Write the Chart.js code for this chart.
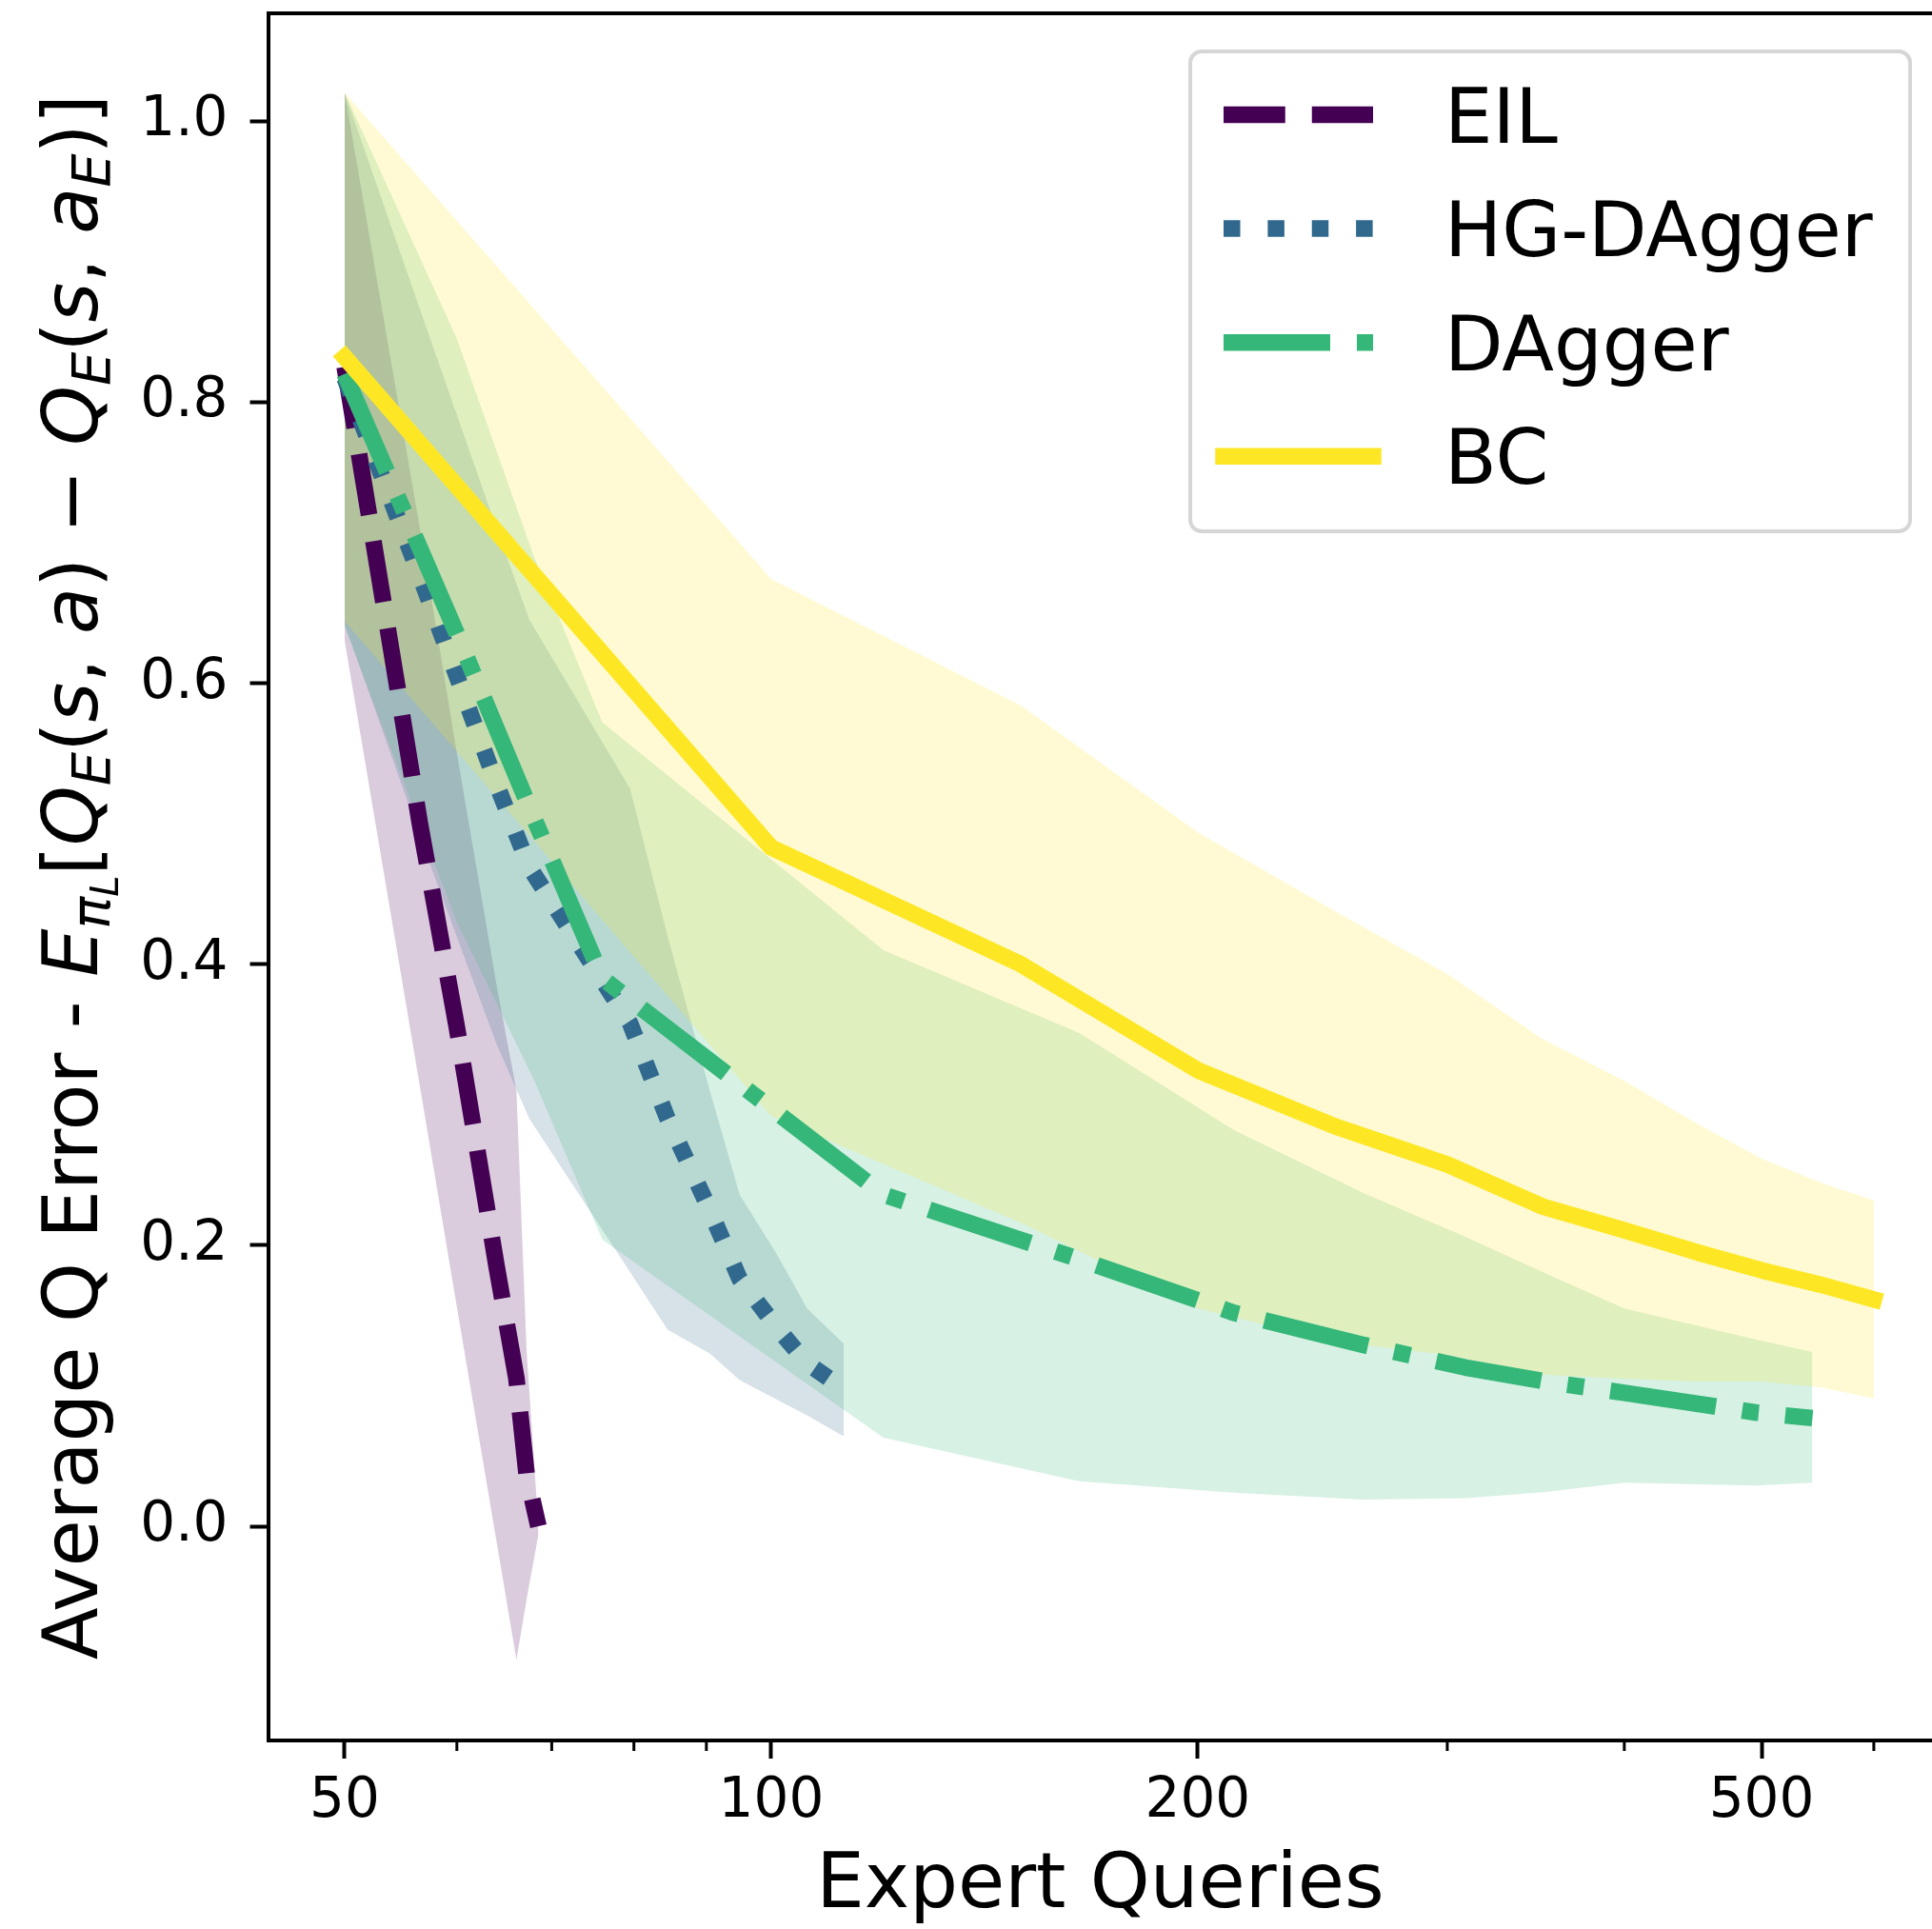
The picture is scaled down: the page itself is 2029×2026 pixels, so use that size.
<!DOCTYPE html>
<html>
<head>
<meta charset="utf-8">
<script src="https://cdn.jsdelivr.net/npm/chart.js@4.4.1/dist/chart.umd.min.js"></script>
<style>
  html, body { margin: 0; padding: 0; background: #fff; }
  #wrap { width: 2029px; height: 2026px; }
</style>
</head>
<body>
<div id="wrap"><canvas id="myChart" width="2029" height="2026"></canvas></div>
<script>
// ---- data ----
var seriesNames = ["EIL", "HG-DAgger", "DAgger", "BC"];
var seriesColors = ["#440154", "#31688e", "#35b779", "#fde725"];

var eilX = [50, 56.5, 60, 64, 66.1, 67.2, 68.5];
var eilMean = [0.825, 0.5, 0.355, 0.185, 0.105, 0.037, 0.0];
var eilLow = [0.63, 0.313, 0.156, -0.011, -0.095, -0.052, -0.006];
var eilHigh = [1.02, 0.71, 0.55, 0.385, 0.31, 0.125, 0.0];

var hgX = [50, 57, 64, 67.5, 79.5, 84.5, 90.5, 95, 101, 106, 112.5];
var hgMean = [0.817, 0.666, 0.528, 0.469, 0.358, 0.29, 0.225, 0.176, 0.141, 0.116, 0.098];
var hgLow = [0.642, 0.48, 0.343, 0.29, 0.181, 0.14, 0.123, 0.104, 0.09, 0.079, 0.064];
var hgHigh = [1.02, 0.855, 0.71, 0.645, 0.525, 0.42, 0.31, 0.236, 0.193, 0.155, 0.13];

var dagX = [50, 60, 68, 76, 120, 165, 212, 262, 309, 352, 400, 495, 543];
var dagMean = [0.82, 0.635, 0.504, 0.39, 0.236, 0.19, 0.152, 0.129, 0.113, 0.103, 0.095, 0.081, 0.077];
var dagLow = [0.64, 0.43, 0.318, 0.204, 0.063, 0.032, 0.024, 0.019, 0.02, 0.0245, 0.031, 0.029, 0.031];
var dagHigh = [1.02, 0.845, 0.69, 0.572, 0.41, 0.351, 0.282, 0.237, 0.206, 0.18, 0.155, 0.133, 0.124];

var bcX = [50, 100, 150, 200, 250, 300, 350, 400, 450, 500, 550, 600];
var bcMean = [0.832, 0.483, 0.4, 0.3245, 0.2846, 0.2575, 0.2276, 0.2107, 0.195, 0.1822, 0.172, 0.1614];
var bcLow = [0.644, 0.292, 0.216, 0.155, 0.1315, 0.122, 0.108, 0.105, 0.103, 0.103, 0.099, 0.091];
var bcHigh = [1.02, 0.674, 0.584, 0.4937, 0.4377, 0.393, 0.347, 0.317, 0.2866, 0.2615, 0.2446, 0.232];

var xTickValues = [50, 60, 70, 80, 90, 100, 200, 300, 400, 500, 600];
var xTickLabels = ["50", "", "", "", "", "100", "200", "", "", "500", ""];
var yTickValues = [0, 0.2, 0.4, 0.6, 0.8, 1.0];
var yTickLabels = ["0.0", "0.2", "0.4", "0.6", "0.8", "1.0"];

// ---- styling ----
var FONT = "'DejaVu Sans', sans-serif";
Chart.defaults.font.family = FONT;
Chart.defaults.color = "#000";

var lw = 17.5;
var dashes = [[3.7 * lw, 1.6 * lw], [1 * lw, 1.65 * lw], [6.4 * lw, 1.6 * lw, 1 * lw, 1.6 * lw], []];
var caps = ["butt", "butt", "butt", "square"];

function pts(xs, ys) {
  return xs.map(function (x, i) { return { x: x, y: ys[i] }; });
}
function alpha(hex, a) {
  var n = parseInt(hex.slice(1), 16);
  return "rgba(" + (n >> 16) + "," + ((n >> 8) & 255) + "," + (n & 255) + "," + a + ")";
}

var xs = [eilX, hgX, dagX, bcX];
var means = [eilMean, hgMean, dagMean, bcMean];
var lows = [eilLow, hgLow, dagLow, bcLow];
var highs = [eilHigh, hgHigh, dagHigh, bcHigh];

var datasets = [];
seriesNames.forEach(function (name, k) {
  datasets.push({
    label: name + " low", band: true, data: pts(xs[k], lows[k]),
    borderWidth: 0, borderColor: "rgba(0,0,0,0)", pointRadius: 0, fill: false, order: 20 - 2 * k
  });
  datasets.push({
    label: name + " high", band: true, data: pts(xs[k], highs[k]),
    borderWidth: 0, borderColor: "rgba(0,0,0,0)", pointRadius: 0,
    fill: "-1", backgroundColor: alpha(seriesColors[k], 0.2), order: 19 - 2 * k
  });
});
seriesNames.forEach(function (name, k) {
  datasets.push({
    label: name, data: pts(xs[k], means[k]),
    borderColor: seriesColors[k], borderWidth: lw, borderDash: dashes[k],
    borderCapStyle: caps[k], borderJoinStyle: "round",
    pointRadius: 0, fill: false, order: 4 - k
  });
});

// y label with math parts: [text, italic, level]
var yTitleParts = [
  ["Average Q Error - ", 0, 0],
  ["E", 1, 0], ["\u03c0", 1, 1], ["L", 1, 2],
  ["[", 0, 0],
  ["Q", 1, 0], ["E", 1, 1],
  ["(", 0, 0], ["s", 1, 0], [", ", 0, 0], ["a", 1, 0], [")", 0, 0],
  [" \u2212 ", 0, 0],
  ["Q", 1, 0], ["E", 1, 1],
  ["(", 0, 0], ["s", 1, 0], [", ", 0, 0], ["a", 1, 0], ["E", 1, 1], [")]", 0, 0]
];

var yTitle = {
  id: "yTitle",
  afterDraw: function (chart) {
    var ctx = chart.ctx, area = chart.chartArea;
    var sizes = [80, 56, 40], drops = [0, 13, 22];
    function font(p) { return (p[1] ? "italic " : "") + sizes[p[2]] + "px " + FONT; }
    var total = 0;
    yTitleParts.forEach(function (p) { ctx.font = font(p); total += ctx.measureText(p[0]).width; });
    ctx.save();
    ctx.translate(102, (area.top + area.bottom) / 2);
    ctx.rotate(-Math.PI / 2);
    ctx.fillStyle = "#000";
    ctx.textBaseline = "alphabetic";
    var x = -total / 2;
    yTitleParts.forEach(function (p) {
      ctx.font = font(p);
      ctx.fillText(p[0], x, drops[p[2]]);
      x += ctx.measureText(p[0]).width;
    });
    ctx.restore();
  }
};

var frame = {
  id: "frame",
  afterDraw: function (chart) {
    var ctx = chart.ctx, area = chart.chartArea, sx = chart.scales.x;
    ctx.save();
    ctx.strokeStyle = "#000";
    ctx.lineWidth = 4;
    ctx.beginPath();
    ctx.moveTo(area.left - 2, area.top);
    ctx.lineTo(area.right, area.top);
    ctx.stroke();
    // minor ticks
    ctx.lineWidth = 3;
    xTickValues.forEach(function (v, i) {
      if (xTickLabels[i] !== "") return;
      var px = sx.getPixelForValue(v);
      ctx.beginPath();
      ctx.moveTo(px, area.bottom);
      ctx.lineTo(px, area.bottom + 11);
      ctx.stroke();
    });
    ctx.restore();
  }
};

var boxLegend = {
  id: "boxLegend",
  afterDraw: function (chart) {
    var ctx = chart.ctx, area = chart.chartArea;
    var left = 1250, top = area.top + 40, right = 2006, bottom = area.top + 544;
    ctx.save();
    ctx.beginPath();
    ctx.roundRect(left, top, right - left, bottom - top, 12);
    ctx.fillStyle = "rgba(255,255,255,0.8)";
    ctx.fill();
    ctx.lineWidth = 4;
    ctx.strokeStyle = "rgba(204,204,204,0.8)";
    ctx.stroke();
    var items = chart.data.datasets.filter(function (d) { return !d.band; });
    items.forEach(function (d, i) {
      var cy = top + 66.5 + i * 119.6;
      ctx.beginPath();
      ctx.setLineDash(d.borderDash);
      ctx.lineCap = d.borderCapStyle;
      ctx.lineWidth = d.borderWidth;
      ctx.strokeStyle = d.borderColor;
      ctx.moveTo(1285, cy);
      ctx.lineTo(1442, cy);
      ctx.stroke();
      ctx.setLineDash([]);
      ctx.font = "80px " + FONT;
      ctx.fillStyle = "#000";
      ctx.textBaseline = "alphabetic";
      ctx.fillText(d.label, 1517, cy + 29);
    });
    ctx.restore();
  }
};

new Chart("myChart", {
  type: "line",
  data: { datasets: datasets },
  plugins: [yTitle, frame, boxLegend],
  options: {
    responsive: false,
    devicePixelRatio: 1,
    animation: false,
    layout: { padding: { top: 14, left: 0, right: 0, bottom: 0 } },
    plugins: { legend: { display: false }, tooltip: { enabled: false } },
    scales: {
      x: {
        type: "logarithmic",
        min: 44.18,
        max: 659.5,
        afterBuildTicks: function (s) { s.ticks = xTickValues.map(function (v) { return { value: v }; }); },
        afterFit: function (s) { s.height = 198; s.paddingLeft = 0; s.paddingRight = 0; },
        ticks: {
          autoSkip: false, maxRotation: 0, minRotation: 0, padding: 11,
          font: { size: 58 }, color: "#000",
          callback: function (v) { return xTickLabels[xTickValues.indexOf(v)]; }
        },
        grid: {
          drawOnChartArea: false, drawTicks: true, tickLength: 19, tickWidth: 4,
          tickColor: function (c) {
            var i = xTickValues.indexOf(c.tick ? c.tick.value : -1);
            return i >= 0 && xTickLabels[i] !== "" ? "#000" : "rgba(0,0,0,0)";
          }
        },
        border: { display: true, color: "#000", width: 4 },
        title: {
          display: true, text: "Expert Queries", color: "#000",
          font: { size: 80, lineHeight: 1 }, padding: { top: 0, bottom: 4 }
        }
      },
      y: {
        type: "linear",
        min: -0.1524,
        max: 1.0766,
        afterBuildTicks: function (s) { s.ticks = yTickValues.map(function (v) { return { value: v }; }); },
        afterFit: function (s) { s.width = 282; s.paddingTop = 0; s.paddingBottom = 0; },
        ticks: {
          autoSkip: false, padding: 23, font: { size: 58 }, color: "#000",
          callback: function (v) { return yTickLabels[yTickValues.indexOf(v)]; }
        },
        grid: { drawOnChartArea: false, drawTicks: true, tickLength: 19.5, tickWidth: 4, tickColor: "#000" },
        border: { display: true, color: "#000", width: 4 }
      }
    }
  }
});
</script>
</body>
</html>
